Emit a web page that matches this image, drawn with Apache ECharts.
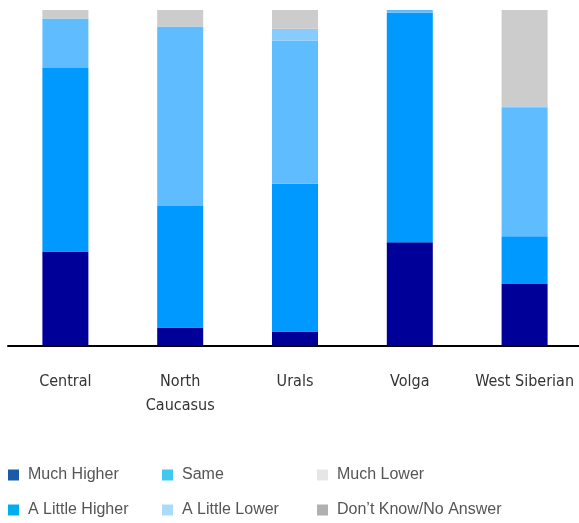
<!DOCTYPE html>
<html>
<head>
<meta charset="utf-8">
<script src="https://cdn.jsdelivr.net/npm/echarts@6/dist/echarts.min.js"></script>
<style>
  html, body { margin: 0; padding: 0; background: #ffffff; overflow: hidden; }
  body { width: 579px; height: 523px; }
  /* the plot runs slightly past the right edge, so the canvas is a bit wider than the page */
  #chart { width: 590px; height: 523px; }
</style>
</head>
<body>
<div id="chart"></div>
<script>
// Regions along the x axis
const regions = ['Central', 'North\nCaucasus', 'Urals', 'Volga', 'West Siberian'];

// Share of answers per region (%)
const muchHigher    = [28.0, 5.4, 4.2, 30.8, 18.3];
const aLittleHigher = [54.7, 36.2, 44.0, 68.4, 14.3];
const same          = [14.8, 53.5, 42.6, 0.8, 38.4];
const aLittleLower  = [0, 0, 3.6, 0, 0.3];
const muchLower     = [0, 0, 0, 0, 0];
const dontKnow      = [2.5, 4.9, 5.6, 0, 28.7];

const seriesDefs = [
  { name: 'Much Higher',          data: muchHigher,    bar: '#000099', key: '#1a5aab' },
  { name: 'A Little Higher',      data: aLittleHigher, bar: '#0099ff', key: '#00aeef' },
  { name: 'Same',                 data: same,          bar: '#5fbdff', key: '#40c8f0' },
  { name: 'A Little Lower',       data: aLittleLower,  bar: '#88ccff', key: '#a8dcf8' },
  { name: 'Much Lower',           data: muchLower,     bar: '#e6e6e6', key: '#e6e6e6' },
  { name: 'Don\u2019t Know/No Answer', data: dontKnow, bar: '#cccccc', key: '#b0b0b0' }
];

const legendColumns = [
  ['Much Higher', 'A Little Higher'],
  ['Same', 'A Little Lower'],
  ['Much Lower', 'Don\u2019t Know/No Answer']
];
const legendLeft = [8, 162, 317];

const keyColor = {};
seriesDefs.forEach(s => { keyColor[s.name] = s.key; });

const chart = echarts.init(document.getElementById('chart'), null, { renderer: 'canvas' });

chart.setOption({
  animation: false,
  backgroundColor: '#ffffff',
  grid: { left: 8, top: 10, width: 574, height: 335.5, containLabel: false },
  legend: legendColumns.map((col, i) => ({
    orient: 'vertical',
    left: legendLeft[i],
    top: 467,
    padding: 0,
    itemWidth: 11,
    itemHeight: 11,
    itemGap: 19,
    icon: 'rect',
    selectedMode: false,
    textStyle: {
      fontFamily: 'Liberation Sans, Arial, sans-serif',
      fontSize: 16,
      lineHeight: 16,
      color: '#555555',
      padding: [0, 0, 0, 4]
    },
    data: col.map(n => ({ name: n, itemStyle: { color: keyColor[n] } }))
  })),
  xAxis: {
    type: 'category',
    data: regions,
    axisLine: { show: true, lineStyle: { color: '#000000', width: 2 } },
    axisTick: { show: false },
    axisLabel: {
      interval: 0,
      margin: 24,
      color: '#333333',
      fontFamily: 'DejaVu Sans Condensed, Liberation Sans, sans-serif',
      fontSize: 16,
      lineHeight: 24
    },
    splitLine: { show: false }
  },
  yAxis: {
    type: 'value',
    min: 0,
    max: 100,
    show: false
  },
  series: seriesDefs.map(s => ({
    name: s.name,
    type: 'bar',
    stack: 'total',
    barWidth: 46,
    data: s.data,
    itemStyle: { color: s.bar },
    emphasis: { disabled: true }
  }))
});
</script>
</body>
</html>
